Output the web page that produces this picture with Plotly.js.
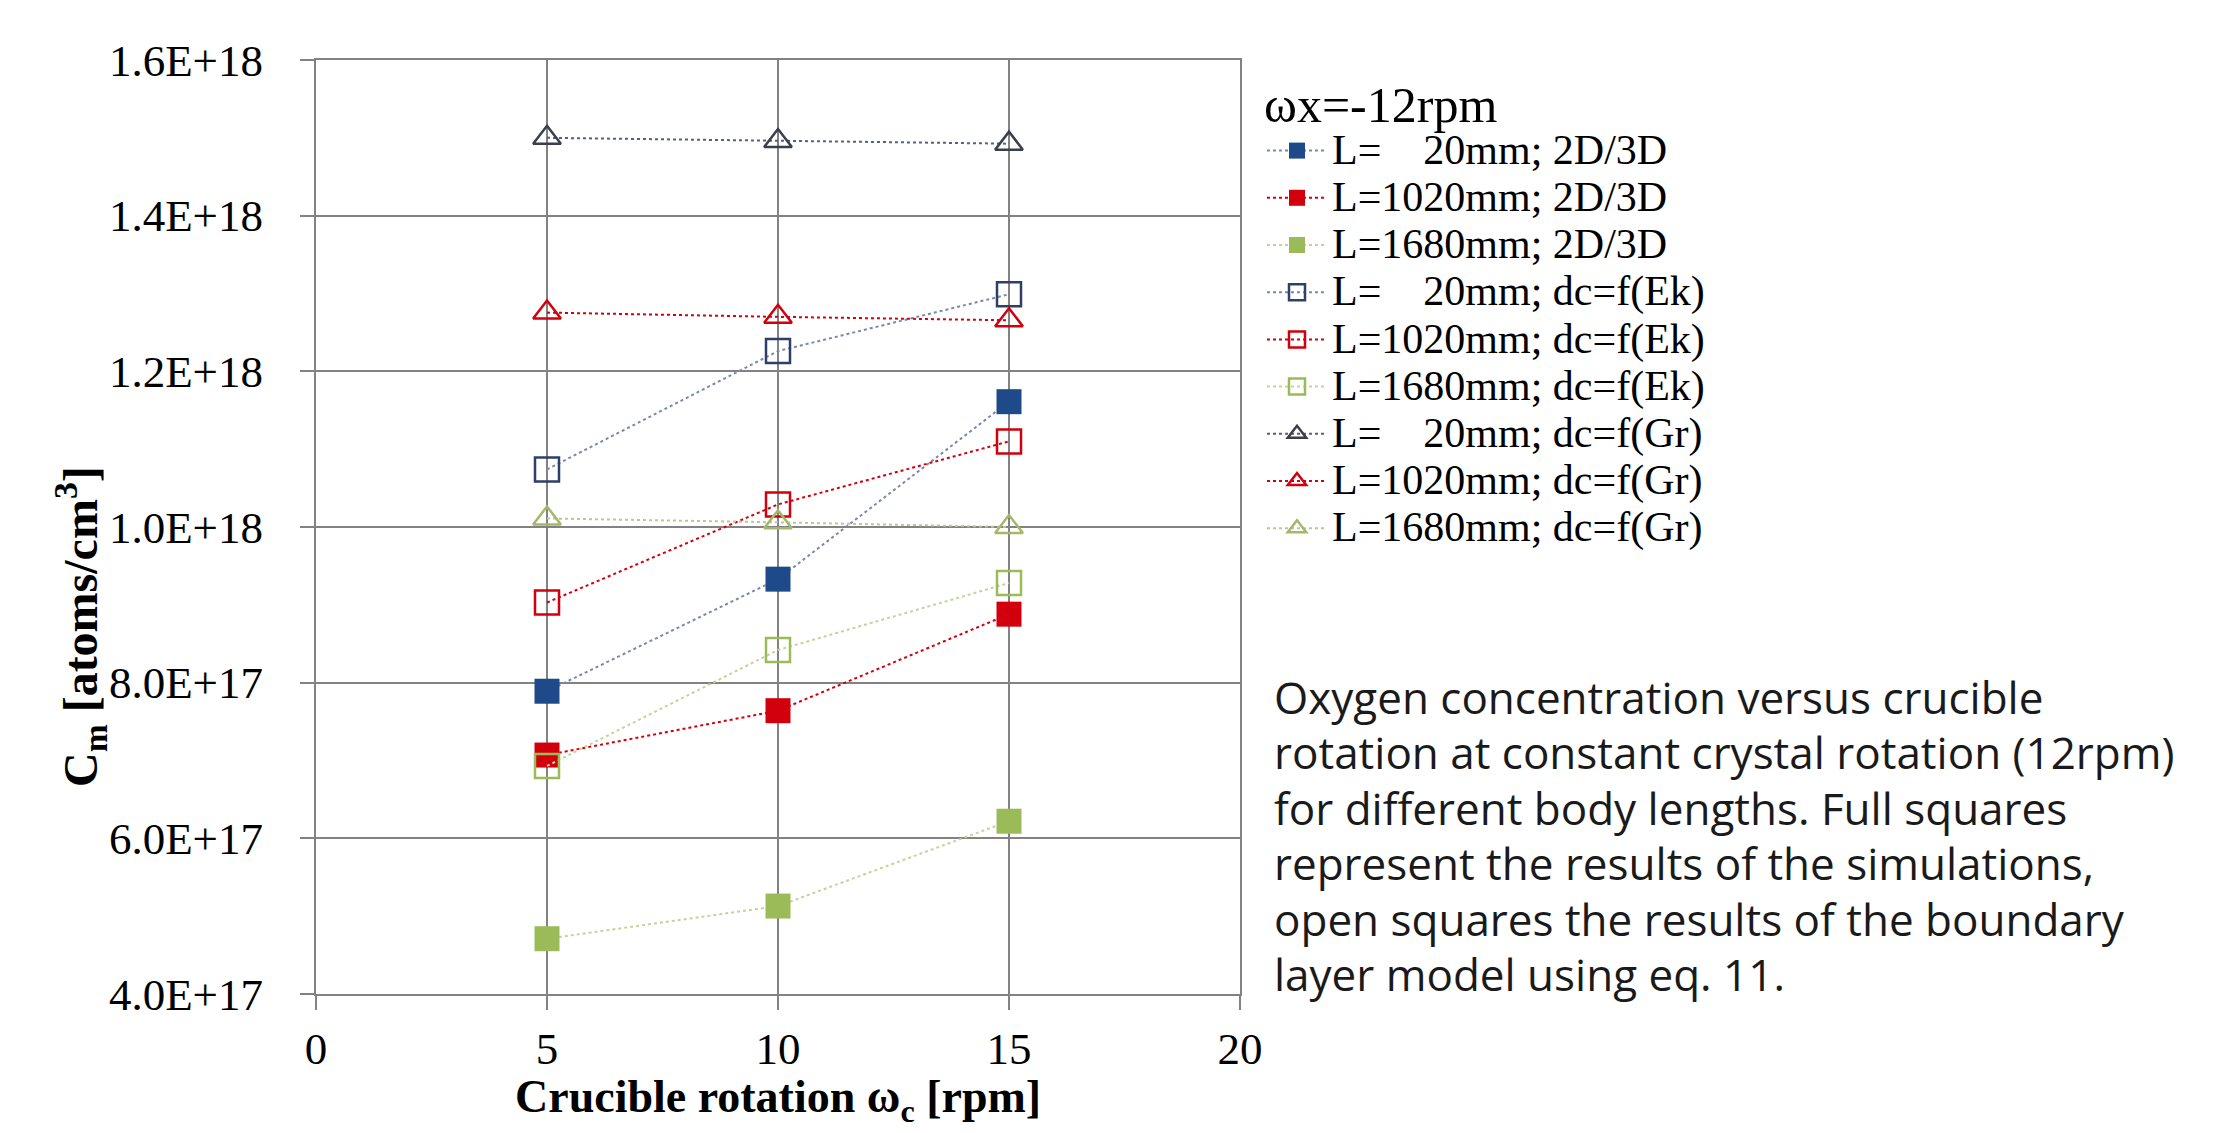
<!DOCTYPE html>
<html>
<head>
<meta charset="utf-8">
<script src="https://cdn.plot.ly/plotly-3.0.1.min.js"></script>
<style>
  html, body { margin: 0; padding: 0; background: #ffffff; }
  #chart { width: 2239px; height: 1133px; }
</style>
</head>
<body>
<div id="chart"></div>
<script>
// ---- data ----
const rpm = [5, 10, 15];

const sim20   = [0.789e18, 0.933e18, 1.161e18];
const sim1020 = [0.707e18, 0.764e18, 0.888e18];
const sim1680 = [0.471e18, 0.513e18, 0.622e18];

const ek20    = [1.074e18, 1.226e18, 1.299e18];
const ek1020  = [0.903e18, 1.029e18, 1.110e18];
const ek1680  = [0.693e18, 0.842e18, 0.928e18];

const gr20    = [1.500e18, 1.496e18, 1.4925e18];
const gr1020  = [1.2755e18, 1.270e18, 1.2656e18];
const gr1680  = [1.011e18, 1.006e18, 1.000e18];

const seriesNames = [
  "L=\u00A0\u00A0\u00A0\u00A020mm; 2D/3D",
  "L=1020mm; 2D/3D",
  "L=1680mm; 2D/3D",
  "L=\u00A0\u00A0\u00A0\u00A020mm; dc=f(Ek)",
  "L=1020mm; dc=f(Ek)",
  "L=1680mm; dc=f(Ek)",
  "L=\u00A0\u00A0\u00A0\u00A020mm; dc=f(Gr)",
  "L=1020mm; dc=f(Gr)",
  "L=1680mm; dc=f(Gr)"
];

const yTickVals  = [4e17, 6e17, 8e17, 1e18, 1.2e18, 1.4e18, 1.6e18];
const yTickText  = ["4.0E+17", "6.0E+17", "8.0E+17", "1.0E+18", "1.2E+18", "1.4E+18", "1.6E+18"];
const xTickVals  = [0, 5, 10, 15, 20];

const legendTitle = "\u03C9x=-12rpm";
const xTitle = "<b>Crucible rotation \u03C9<sub>c</sub> [rpm]</b>";
const yTitle = "<b>C<sub>m</sub> [atoms/cm<sup>3</sup>]</b>";
const captionLines = [
  "Oxygen concentration versus crucible",
  "rotation at constant crystal rotation (12rpm)",
  "for different body lengths. Full squares",
  "represent the results of the simulations,",
  "open squares the results of the boundary",
  "layer model using eq. 11."
];

// ---- styling ----
const BLUE = "#1f4a8a", RED = "#d2000c", GREEN = "#9bbb59";
const serif = "Liberation Serif, Times New Roman, serif";

function tr(y, name, symbol, mColor, lineColor, mLine, size, dashColor) {
  return {
    type: "scatter", mode: "lines+markers",
    x: rpm, y: y,
    name: '<span style="font-size:42px">' + name + '</span>',
    line: { color: dashColor, width: 2, dash: "dot" },
    marker: { symbol: symbol, size: size, color: mColor,
              line: { color: lineColor, width: mLine } }
  };
}

const data = [
  tr(sim20,   seriesNames[0], "square", BLUE,  BLUE,  0, 25, "#7a88aa"),
  tr(sim1020, seriesNames[1], "square", RED,   RED,   0, 25, RED),
  tr(sim1680, seriesNames[2], "square", GREEN, GREEN, 0, 25, "#c3d39e"),
  tr(ek20,    seriesNames[3], "square-open", "#2e4068", "#2e4068", 2.5, 24, "#7a88aa"),
  tr(ek1020,  seriesNames[4], "square-open", RED, RED, 2.5, 24, RED),
  tr(ek1680,  seriesNames[5], "square-open", GREEN, GREEN, 2.5, 24, "#c3d39e"),
  tr(gr20,    seriesNames[6], "triangle-up-open", "#3b3f4c", "#3b3f4c", 2.5, 24, "#55607e"),
  tr(gr1020,  seriesNames[7], "triangle-up-open", RED, RED, 2.5, 24, RED),
  tr(gr1680,  seriesNames[8], "triangle-up-open", "#a5b76a", "#a5b76a", 2.5, 24, "#b9c98f")
];

const W = 2239, H = 1133;
const L = 316, R = 999, T = 60, B = 139;
const plotW = W - L - R, plotH = H - T - B;
const px2x = p => (p - L) / plotW;
const py2y = p => 1 - (p - T) / plotH;

const annotations = [
  {
    xref: "paper", yref: "paper",
    x: px2x(80), y: py2y(627),
    xanchor: "center", yanchor: "middle",
    text: yTitle, textangle: -90, showarrow: false,
    font: { family: serif, size: 48, color: "#000" }
  },
  {
    xref: "paper", yref: "paper",
    x: 0.5, y: py2y(1100),
    xanchor: "center", yanchor: "middle",
    text: xTitle, showarrow: false,
    font: { family: serif, size: 46, color: "#000" }
  }
];
const captionY0 = 697, captionStep = 55.4;
captionLines.forEach((ln, i) => {
  annotations.push({
    xref: "paper", yref: "paper",
    x: px2x(1272), y: py2y(captionY0 + i * captionStep),
    xanchor: "left", yanchor: "middle", align: "left",
    text: ln, showarrow: false,
    font: { family: "Open Sans, sans-serif", size: 44, color: "#1a1a1a" }
  });
});

const axisCommon = {
  showgrid: true, gridcolor: "#828282", gridwidth: 2,
  showline: true, linecolor: "#828282", linewidth: 2, mirror: true,
  zeroline: false,
  ticks: "outside", ticklen: 14, tickwidth: 2, tickcolor: "#828282",
  tickfont: { family: serif, size: 45, color: "#000" }
};

const layout = {
  width: W, height: H,
  margin: { l: L, r: R, t: T, b: B, pad: 0 },
  paper_bgcolor: "#ffffff", plot_bgcolor: "#ffffff",
  showlegend: true,
  xaxis: Object.assign({}, axisCommon, {
    range: [0, 20], tickmode: "array", tickvals: xTickVals,
    ticklabelstandoff: 0
  }),
  yaxis: Object.assign({}, axisCommon, {
    range: [4e17, 1.6e18], tickmode: "array", tickvals: yTickVals, ticktext: yTickText,
    ticklabelstandoff: 28
  }),
  legend: {
    x: px2x(1262), y: py2y(57), xanchor: "left", yanchor: "top",
    bgcolor: "rgba(0,0,0,0)", borderwidth: 0,
    font: { family: serif, size: 34, color: "#000" },
    title: { text: legendTitle, font: { family: serif, size: 50, color: "#000" } },
    itemwidth: 60, itemsizing: "trace", tracegroupgap: 0
  },
  annotations: annotations
};

Plotly.newPlot("chart", data, layout, { displayModeBar: false, staticPlot: true });
</script>
</body>
</html>
